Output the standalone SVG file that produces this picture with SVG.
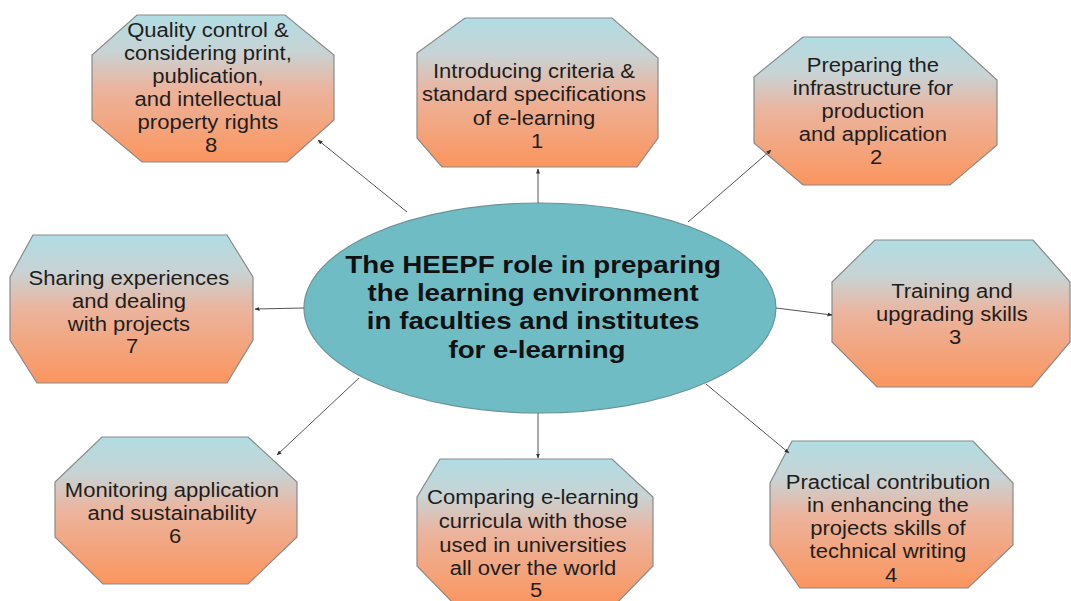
<svg xmlns="http://www.w3.org/2000/svg" width="1071" height="601" viewBox="0 0 1071 601">
  <defs>
    <linearGradient id="octFill" x1="0" y1="0" x2="0" y2="1">
      <stop offset="0" stop-color="#b0dde3"/>
      <stop offset="0.25" stop-color="#c8d3d4"/>
      <stop offset="0.5" stop-color="#ebb49d"/>
      <stop offset="1" stop-color="#fb955e"/>
    </linearGradient>
    <marker id="arrow" viewBox="0 0 10 10" refX="9" refY="5" markerWidth="5" markerHeight="5" orient="auto" markerUnits="userSpaceOnUse">
      <path d="M0,1 L10,5 L0,9 z" fill="#333"/>
    </marker>
  </defs>
  <style>
    .oct { fill: url(#octFill); stroke: #8a8a8a; stroke-width: 1.2; }
    .lbl { font-family: "Liberation Sans", Arial, sans-serif; font-size: 19.5px; fill: #1e1e1e; text-anchor: middle; }
    .hub { fill: #6fbcc5; stroke: #6b9499; stroke-width: 1.2; }
    .hubtxt { font-family: "Liberation Sans", Arial, sans-serif; font-size: 23.5px; font-weight: bold; fill: #111; text-anchor: middle; }
    .conn { stroke: #555; stroke-width: 1; fill: none; marker-end: url(#arrow); }
  </style>

  <rect width="1071" height="601" fill="#ffffff"/>

  <g id="hub">
    <ellipse class="hub" cx="540" cy="308" rx="236" ry="105"/>
    <text class="hubtxt" transform="translate(537 0) scale(1.18 1)">
      <tspan x="0" y="273">The HEEPF role in preparing</tspan>
      <tspan x="0" y="301">the learning environment</tspan>
      <tspan x="0" y="329">in faculties and institutes</tspan>
      <tspan x="0" y="358">for e-learning</tspan>
    </text>
  </g>

  <g id="node1">
    <polygon class="oct" points="465,18 612,18 658,58 658,138 637,167 442,167 417,138 417,53"/>
    <text class="lbl" transform="translate(537 0) scale(1.13 1)">
      <tspan x="0" y="78">Introducing criteria &amp;</tspan>
      <tspan x="0" y="101.5">standard specifications</tspan>
      <tspan x="0" y="125">of e-learning</tspan>
      <tspan x="0" y="148">1</tspan>
    </text>
  </g>

  <g id="node2">
    <polygon class="oct" points="803,37 950,37 997,80 997,145 950,185 803,185 754,143 754,77"/>
    <text class="lbl" transform="translate(876 0) scale(1.13 1)">
      <tspan x="0" y="72">Preparing the</tspan>
      <tspan x="0" y="95">infrastructure for</tspan>
      <tspan x="0" y="118">production</tspan>
      <tspan x="0" y="141">and application</tspan>
      <tspan x="0" y="164">2</tspan>
    </text>
  </g>

  <g id="node3">
    <polygon class="oct" points="875,240 1033,240 1070,282 1070,342 1032,387 877,387 832,342 832,282"/>
    <text class="lbl" transform="translate(955 0) scale(1.13 1)">
      <tspan x="0" y="298">Training and</tspan>
      <tspan x="0" y="321">upgrading skills</tspan>
      <tspan x="0" y="344">3</tspan>
    </text>
  </g>

  <g id="node4">
    <polygon class="oct" points="792,441 973,441 1013,483 1013,545 968,588 800,588 770,545 770,483"/>
    <text class="lbl" transform="translate(891 0) scale(1.13 1)">
      <tspan x="0" y="489">Practical contribution</tspan>
      <tspan x="0" y="512">in enhancing the</tspan>
      <tspan x="0" y="535">projects skills of</tspan>
      <tspan x="0" y="558">technical writing</tspan>
      <tspan x="0" y="582">4</tspan>
    </text>
  </g>

  <g id="node5">
    <polygon class="oct" points="440,459 612,459 653,497 653,566 614,606 456,606 417,566 417,497"/>
    <text class="lbl" transform="translate(536 0) scale(1.13 1)">
      <tspan x="0" y="504">Comparing e-learning</tspan>
      <tspan x="0" y="528">curricula with those</tspan>
      <tspan x="0" y="552">used in universities</tspan>
      <tspan x="0" y="575">all over the world</tspan>
      <tspan x="0" y="597">5</tspan>
    </text>
  </g>

  <g id="node6">
    <polygon class="oct" points="102,437 248,437 297,482 297,537 248,584 103,584 55,537 55,482"/>
    <text class="lbl" transform="translate(175 0) scale(1.13 1)">
      <tspan x="0" y="497">Monitoring application</tspan>
      <tspan x="0" y="520">and sustainability</tspan>
      <tspan x="0" y="543">6</tspan>
    </text>
  </g>

  <g id="node7">
    <polygon class="oct" points="33,235 227,235 253,277 253,340 227,383 37,383 10,340 10,277"/>
    <text class="lbl" transform="translate(132 0) scale(1.13 1)">
      <tspan x="0" y="285">Sharing experiences</tspan>
      <tspan x="0" y="308">and dealing</tspan>
      <tspan x="0" y="331">with projects</tspan>
      <tspan x="0" y="353">7</tspan>
    </text>
  </g>

  <g id="node8">
    <polygon class="oct" points="137,15 285,15 334,55 334,120 287,162 142,162 92,120 92,55"/>
    <text class="lbl" transform="translate(211 0) scale(1.13 1)">
      <tspan x="0" y="37">Quality control &amp;</tspan>
      <tspan x="0" y="60">considering print,</tspan>
      <tspan x="0" y="83">publication,</tspan>
      <tspan x="0" y="106">and intellectual</tspan>
      <tspan x="0" y="129">property rights</tspan>
      <tspan x="0" y="152">8</tspan>
    </text>
  </g>

  <!-- connectors from the central ellipse to each task, drawn on top so the heads stay visible -->
  <g id="connectors">
    <line class="conn" x1="538" y1="203" x2="538" y2="169"/>
    <line class="conn" x1="688" y1="222" x2="771" y2="150"/>
    <line class="conn" x1="776" y1="308" x2="832" y2="315"/>
    <line class="conn" x1="706" y1="384" x2="789" y2="453"/>
    <line class="conn" x1="538" y1="413" x2="538" y2="458"/>
    <line class="conn" x1="359" y1="378" x2="277" y2="455"/>
    <line class="conn" x1="304" y1="308" x2="255" y2="309"/>
    <line class="conn" x1="407" y1="212" x2="318" y2="140"/>
  </g>
</svg>
